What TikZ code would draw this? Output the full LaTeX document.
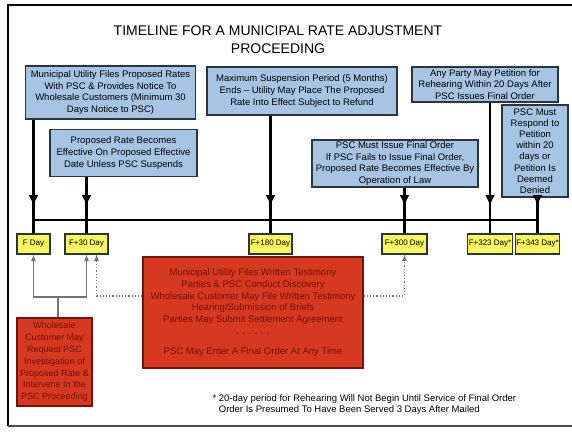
\documentclass[tikz,border=0pt]{standalone}
\usepackage{fontspec}
\setmainfont{Liberation Sans}
\usepackage{tikz}
\usetikzlibrary{arrows.meta,arrows}
\tikzset{>=latex}
\definecolor{boxblue}{RGB}{166,196,228}
\definecolor{boxedge}{RGB}{45,52,64}
\definecolor{dayyellow}{RGB}{250,246,96}
\definecolor{redfill}{RGB}{214,56,32}
\definecolor{redtext}{RGB}{115,18,14}
\newcommand{\txt}{\fontsize{9.5}{11.8}\selectfont}

\begin{document}
\begin{tikzpicture}[x=1pt,y=-1pt,
  bluebox/.style={draw=boxedge,fill=boxblue,line width=1.2pt,align=center,inner sep=1pt,font=\txt},
  daybox/.style={draw=boxedge,fill=dayyellow,line width=1.2pt,minimum height=20pt,inner sep=1pt,font=\fontsize{8}{9}\selectfont},
  redbox/.style={draw=redtext,fill=redfill,line width=1.2pt,align=center,inner sep=1pt,text=redtext,font=\txt},
  vline/.style={line width=2.2pt},
  bigtip/.style={-{Latex[length=11pt,width=10pt]}},
  grayline/.style={black!55,line width=1.2pt},
  dotline/.style={black!55,dotted,line width=1.2pt,->}]
\useasboundingbox (0,0) rectangle (572,432);

% Frame
\draw[line width=1.8pt] (572,5)--(8,5)--(8,426);
\draw[line width=1.8pt,black!70] (8,426)--(572,426);

% Title
\node[font=\fontsize{14}{18.5}\selectfont,align=center] (title) at (278,39.5) {TIMELINE FOR A MUNICIPAL RATE ADJUSTMENT\\PROCEEDING};

% Events
\node[bluebox,minimum width=170pt,minimum height=53pt] (filing) at (110.5,92.5) {Municipal Utility Files Proposed Rates\\With PSC \& Provides Notice To\\Wholesale Customers (Minimum 30\\Days Notice to PSC)};
\node[bluebox,minimum width=147pt,minimum height=47pt] (effective) at (123.5,153) {Proposed Rate Becomes\\Effective On Proposed Effective\\Date Unless PSC Suspends};
\node[bluebox,minimum width=190pt,minimum height=48pt] (suspension) at (302,91) {Maximum Suspension Period (5 Months)\\Ends -- Utility May Place The Proposed\\Rate Into Effect Subject to Refund};
\node[bluebox,minimum width=166pt,minimum height=47pt] (finalorder) at (395,163.5) {PSC Must Issue Final Order\\If PSC Fails to Issue Final Order,\\Proposed Rate Becomes Effective By\\Operation of Law};
\node[bluebox,minimum width=146pt,minimum height=35pt] (rehearing) at (485,84.5) {Any Party May Petition for\\Rehearing Within 20 Days After\\PSC Issues Final Order};
\node[bluebox,minimum width=66pt,minimum height=92pt,font=\fontsize{9.5}{11.2}\selectfont] (respond) at (535,151) {PSC Must\\Respond to\\Petition\\within 20\\days or\\Petition Is\\Deemed\\Denied};

% Days
\node[daybox,minimum width=33pt] (fday) at (33.5,244) {F Day};
\node[daybox,minimum width=43pt] (fthirty) at (86.5,244) {F+30 Day};
\node[daybox,minimum width=43pt] (foneeighty) at (270.5,244) {F+180 Day};
\node[daybox,minimum width=45pt] (fthreehundred) at (404.5,244) {F+300 Day};
\node[daybox,minimum width=44pt] (fthreetwothree) at (490,244) {F+323 Day*};
\node[daybox,minimum width=43pt] (fthreefourthree) at (537.5,244) {F+343 Day*};

% Timeline
\coordinate (tl) at (0,220);
\coordinate (ah) at (0,206);
\draw[vline] (fday |- tl)--(fthreefourthree |- tl);

% Arrows
\draw[vline] (fday |- filing.south)--(fday.north);
\draw[vline,bigtip] (fday |- filing.south)--(fday |- ah);
\draw[vline] (fthirty |- effective.south)--(fthirty.north);
\draw[vline,bigtip] (fthirty |- effective.south)--(fthirty |- ah);
\draw[vline] (foneeighty |- suspension.south)--(foneeighty.north);
\draw[vline,bigtip] (foneeighty |- suspension.south)--(foneeighty |- ah);
\draw[vline] (fthreehundred |- finalorder.south)--(fthreehundred.north);
\draw[vline,bigtip] (fthreehundred |- finalorder.south)--(fthreehundred |- ah);
\draw[vline] (fthreetwothree |- rehearing.south)--(fthreetwothree.north);
\draw[vline,bigtip] (fthreetwothree |- rehearing.south)--(fthreetwothree |- ah);
\draw[vline] (fthreefourthree |- respond.south)--(fthreefourthree.north);
\draw[vline,bigtip] (fthreefourthree |- respond.south)--(fthreefourthree |- ah);

% Red boxes
\node[redbox,minimum width=75pt,minimum height=88pt,font=\fontsize{9}{11.8}\selectfont] (intervene) at (54.5,362) {Wholesale\\Customer May\\Request PSC\\Investigation of\\Proposed Rate \&\\Intervene In the\\PSC Proceeding};
\node[redbox,minimum width=220pt,minimum height=111pt] (testimony) at (253,312.5) {Municipal Utility Files Written Testimony\\Parties \& PSC Conduct Discovery\\Wholesale Customer May File Written Testimony\\Hearing/Submission of Briefs\\Parties May Submit Settlement Agreement\\. . . . . .\\[8pt]PSC May Enter A Final Order At Any Time};

% Connectors
\coordinate (split) at (58,297);
\draw[grayline] (split |- intervene.north)--(split);
\draw[grayline,->] (split)-|(fday.south);
\draw[grayline,->] (split)-|(fthirty.south);
\coordinate (dl) at (0,296);
\draw[dotline] (testimony.west |- dl)-|([xshift=10pt]fthirty.south);
\draw[dotline] (testimony.east |- dl)-|(fthreehundred.south);

% Note
\node[anchor=north west,align=left,font=\fontsize{9.5}{11.5}\selectfont] (note) at (209,391) {* 20-day period for Rehearing Will Not Begin Until Service of Final Order\\\hphantom{* }Order Is Presumed To Have Been Served 3 Days After Mailed};

\end{tikzpicture}
\end{document}
